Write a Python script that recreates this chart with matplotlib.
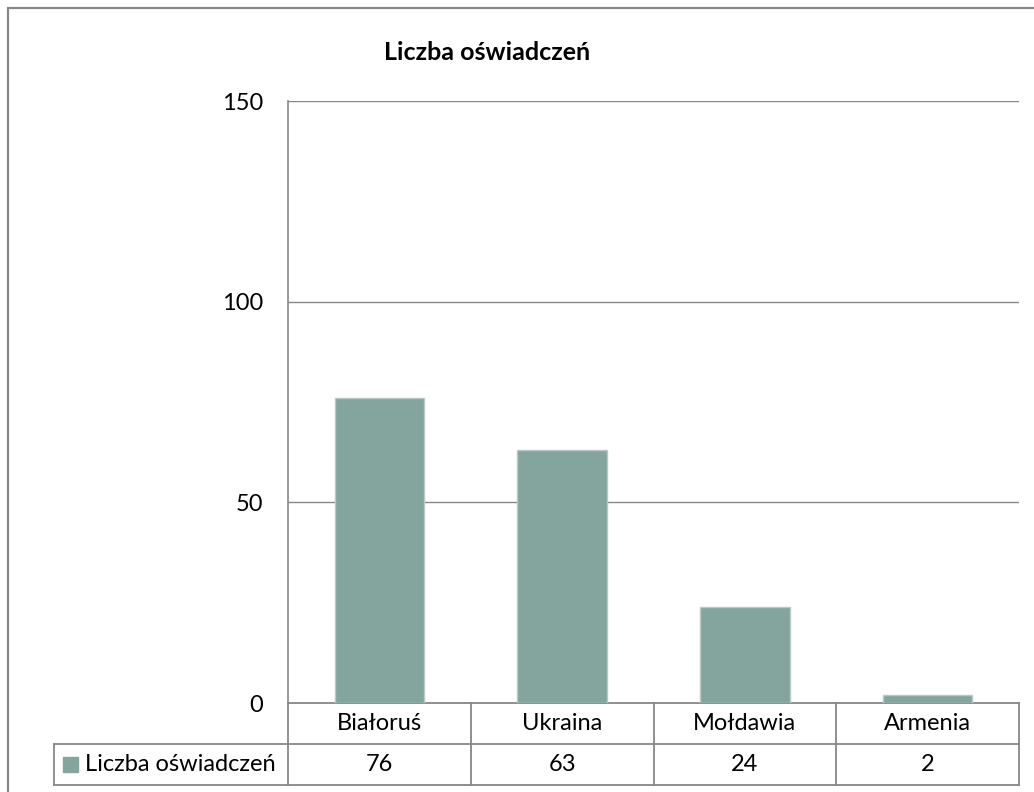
import matplotlib.pyplot as plt
import matplotlib.transforms as mtransforms
from matplotlib.patches import Rectangle

plt.rcParams['font.family'] = ['Lato', 'DejaVu Sans']

categories = ['Białoruś', 'Ukraina', 'Mołdawia', 'Armenia']
values = [76, 63, 24, 2]
series_name = 'Liczba oświadczeń'
y_ticks = [0, 50, 100, 150]

W, H = 1034, 792
GRAY = '#878787'
BAR = '#84A59E'


def fx(px):
    return px / W


def fy(py):
    return 1 - py / H


fig = plt.figure(figsize=(W / 100, H / 100), dpi=100)
fig.patch.set_facecolor('white')

# outer chart border (right/bottom are cut off in the reference)
fig.add_artist(Rectangle((fx(8), -0.1), 1.2, fy(8) + 0.1, transform=fig.transFigure,
                         fill=False, edgecolor=GRAY, lw=1.6))

ax = fig.add_axes([fx(288), fy(703), fx(1019) - fx(288), fy(101) - fy(703)])
x = list(range(len(categories)))
ax.bar(x, values, width=0.49, color=BAR, edgecolor='#B9C8C4', linewidth=1, zorder=3)
ax.set_xlim(-0.5, len(categories) - 0.5)
ax.set_ylim(0, 150)
ax.set_yticks(y_ticks)
ax.tick_params(axis='y', length=0, pad=18, labelsize=17, labelcolor='#000000')
ax.set_xticks([])
for yv in y_ticks[1:]:
    ax.axhline(yv, color=GRAY, lw=1, zorder=1)
for s in ['top', 'right', 'bottom']:
    ax.spines[s].set_visible(False)
ax.spines['left'].set_color(GRAY)
ax.spines['left'].set_linewidth(1.2)

fig.text(fx(487), fy(52), series_name, ha='center', va='center',
         fontsize=18, fontweight='bold')

# data table below the axis
bt = mtransforms.blended_transform_factory(ax.transData, fig.transFigure)
r0, r1, r2 = fy(703), fy(744), fy(785)
lo, hi = -0.5, len(categories) - 0.5
kw = dict(color=GRAY, lw=1.3, clip_on=False)
ax.plot([lo, hi], [r0, r0], transform=bt, **kw)
for b in range(len(categories) + 1):
    ax.plot([b - 0.5, b - 0.5], [r0, r2], transform=bt, **kw)
# header cell lines
hx = fx(54)
xr = fig.transFigure.inverted().transform(ax.transData.transform((hi, 0)))[0]
fig.add_artist(plt.Line2D([hx, xr], [r1, r1], transform=fig.transFigure, color=GRAY, lw=1.3))
fig.add_artist(plt.Line2D([hx, xr], [r2, r2], transform=fig.transFigure, color=GRAY, lw=1.3))
fig.add_artist(plt.Line2D([hx, hx], [r1, r2], transform=fig.transFigure, color=GRAY, lw=1.3))

for i, (c, v) in enumerate(zip(categories, values)):
    ax.text(i, (r0 + r1) / 2, c, transform=bt, ha='center', va='center', fontsize=17)
    ax.text(i, (r1 + r2) / 2, str(v), transform=bt, ha='center', va='center', fontsize=17)

fig.add_artist(Rectangle((fx(63), fy(772)), fx(78) - fx(63), fy(757) - fy(772),
                         transform=fig.transFigure, color=BAR))
fig.text(fx(85), (r1 + r2) / 2, series_name, ha='left', va='center', fontsize=17)

fig.savefig('out.png', dpi=100)
